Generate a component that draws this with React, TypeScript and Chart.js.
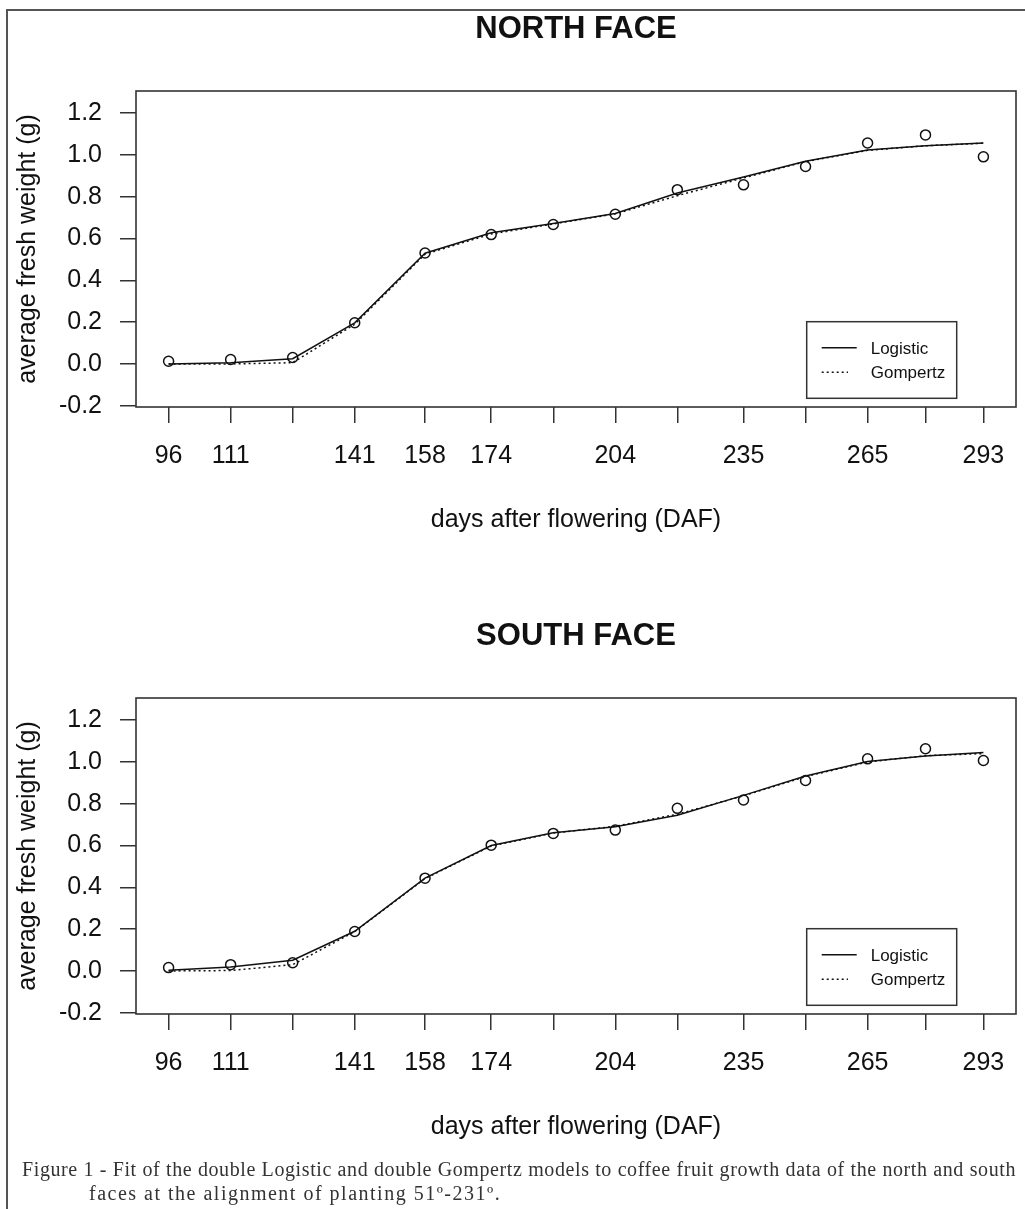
import React, { useEffect, useRef } from 'react';
import { Chart, registerables } from 'chart.js';

Chart.register(...registerables);

// ---- data ----
const days = [96, 111, 126, 141, 158, 174, 189, 204, 219, 235, 250, 265, 279, 293];
const xLabelDays = [96, 111, 141, 158, 174, 204, 235, 265, 293];
const yTicks = [-0.2, 0, 0.2, 0.4, 0.6, 0.8, 1.0, 1.2];

const northObserved = [0.013, 0.021, 0.031, 0.197, 0.531, 0.619, 0.667, 0.716, 0.834, 0.857, 0.945, 1.057, 1.096, 0.991];
const northLogistic = [0.0, 0.006, 0.025, 0.197, 0.53, 0.628, 0.672, 0.72, 0.818, 0.895, 0.97, 1.024, 1.044, 1.057];
const northGompertz = [0.0, 0.0, 0.006, 0.19, 0.525, 0.622, 0.67, 0.718, 0.805, 0.89, 0.968, 1.022, 1.044, 1.056];

const southObserved = [0.016, 0.03, 0.039, 0.189, 0.444, 0.602, 0.658, 0.674, 0.778, 0.818, 0.911, 1.015, 1.063, 1.007];
const southLogistic = [0.003, 0.019, 0.051, 0.19, 0.444, 0.6, 0.661, 0.69, 0.745, 0.84, 0.933, 1.002, 1.028, 1.045];
const southGompertz = [0.0, 0.002, 0.03, 0.188, 0.442, 0.598, 0.66, 0.692, 0.75, 0.838, 0.93, 1.0, 1.03, 1.04];

const FONT = 'Liberation Sans, Arial, sans-serif';
const INK = '#111';

const toXY = (vals: number[]) => days.map((d, i) => ({ x: d, y: vals[i] }));

const boxPlugin = {
  id: 'plotBox',
  afterDatasetsDraw(chart: any) {
    const { ctx, chartArea: a } = chart;
    ctx.save();
    ctx.strokeStyle = '#333';
    ctx.lineWidth = 1.6;
    ctx.strokeRect(a.left, a.top, a.right - a.left, a.bottom - a.top);
    ctx.restore();
  },
};

const legendPlugin = {
  id: 'rLegend',
  afterDraw(chart: any) {
    const { ctx, chartArea: a } = chart;
    const ds = chart.data.datasets;
    const left = a.right - 209.3;
    const right = a.right - 59.3;
    const top = a.bottom - 85.3;
    const bottom = a.bottom - 8.7;
    ctx.save();
    ctx.fillStyle = '#fff';
    ctx.fillRect(left, top, right - left, bottom - top);
    ctx.strokeStyle = '#333';
    ctx.lineWidth = 1.5;
    ctx.strokeRect(left, top, right - left, bottom - top);
    const rows = [
      { ds: ds[1], y: a.bottom - 59.3, x2: a.right - 159.3, ty: a.bottom - 57.6 },
      { ds: ds[2], y: a.bottom - 34.7, x2: a.right - 168, ty: a.bottom - 33.2 },
    ];
    rows.forEach((r) => {
      ctx.beginPath();
      ctx.strokeStyle = INK;
      ctx.lineWidth = 1.5;
      ctx.setLineDash(r.ds.borderDash || []);
      ctx.moveTo(a.right - 194.3, r.y);
      ctx.lineTo(r.x2, r.y);
      ctx.stroke();
      ctx.setLineDash([]);
      ctx.fillStyle = INK;
      ctx.font = `17px ${FONT}`;
      ctx.textAlign = 'left';
      ctx.textBaseline = 'middle';
      ctx.fillText(r.ds.label, a.right - 145.3, r.ty);
    });
    ctx.restore();
  },
};

function Panel({ title, observed, logistic, gompertz, top }: any) {
  const ref = useRef<HTMLCanvasElement>(null);
  useEffect(() => {
    const chart = new Chart(ref.current as HTMLCanvasElement, {
      type: 'scatter',
      data: {
        datasets: [
          {
            label: 'Observed',
            data: toXY(observed),
            showLine: false,
            pointRadius: 5,
            pointBorderWidth: 1.5,
            pointBackgroundColor: 'rgba(0,0,0,0)',
            pointBorderColor: INK,
            borderColor: INK,
          },
          {
            label: 'Logistic',
            data: toXY(logistic),
            showLine: true,
            pointRadius: 0,
            borderColor: INK,
            borderWidth: 1.5,
            tension: 0,
          },
          {
            label: 'Gompertz',
            data: toXY(gompertz),
            showLine: true,
            pointRadius: 0,
            borderColor: INK,
            borderWidth: 1.5,
            borderDash: [2, 3],
            tension: 0,
          },
        ],
      } as any,
      options: {
        animation: false,
        responsive: false,
        events: [],
        layout: { padding: { left: 0, right: 9, top: 0, bottom: 0 } },
        plugins: {
          legend: { display: false },
          tooltip: { enabled: false },
          title: {
            display: true,
            text: title,
            fullSize: false,
            color: INK,
            font: { family: FONT, size: 31, weight: 'bold', lineHeight: 1.2 },
            padding: { top: 10.4, bottom: 43.4 },
          },
        },
        scales: {
          x: {
            type: 'linear',
            min: 88.12,
            max: 300.88,
            afterBuildTicks: (s: any) => {
              s.ticks = days.map((v) => ({ value: v }));
            },
            afterFit: (s: any) => {
              s.height = 153;
            },
            ticks: {
              autoSkip: false,
              maxRotation: 0,
              minRotation: 0,
              padding: 18,
              color: INK,
              font: { family: FONT, size: 25 },
              callback: (v: any) => (xLabelDays.includes(Number(v)) ? String(v) : ''),
            },
            grid: { drawOnChartArea: false, drawTicks: true, tickLength: 16, color: '#333', lineWidth: 1.5 },
            border: { display: false },
            title: {
              display: true,
              text: 'days after flowering (DAF)',
              color: INK,
              font: { family: FONT, size: 25, lineHeight: 1.2 },
              padding: { top: 0, bottom: 24.75 },
            },
          },
          y: {
            type: 'linear',
            min: -0.206,
            max: 1.306,
            afterBuildTicks: (s: any) => {
              s.ticks = yTicks.map((v) => ({ value: v }));
            },
            afterFit: (s: any) => {
              s.width = 136;
            },
            ticks: {
              padding: 18,
              color: INK,
              font: { family: FONT, size: 25 },
              callback: (v: any) => Number(v).toFixed(1),
            },
            grid: { drawOnChartArea: false, drawTicks: true, tickLength: 16, color: '#333', lineWidth: 1.5 },
            border: { display: false },
            title: {
              display: true,
              text: 'average fresh weight (g)',
              color: INK,
              font: { family: FONT, size: 25, lineHeight: 1.2 },
              padding: { top: 12.75, bottom: 0 },
            },
          },
        },
      } as any,
      plugins: [boxPlugin, legendPlugin],
    });
    return () => chart.destroy();
  }, []);
  return (
    <canvas
      ref={ref}
      width={1025}
      height={560}
      style={{ position: 'absolute', left: 0, top, width: 1025, height: 560 }}
    />
  );
}

export default function App() {
  return (
    <div
      style={{
        position: 'absolute',
        left: 0,
        top: 0,
        width: 1025,
        height: 1209,
        overflow: 'hidden',
        background: '#fff',
      }}
    >
      <div
        style={{
          position: 'absolute',
          left: 6,
          top: 9,
          width: 1200,
          height: 1400,
          borderTop: '2px solid #555',
          borderLeft: '2px solid #555',
        }}
      />
      <Panel title="NORTH FACE" observed={northObserved} logistic={northLogistic} gompertz={northGompertz} top={0} />
      <Panel title="SOUTH FACE" observed={southObserved} logistic={southLogistic} gompertz={southGompertz} top={607} />
      <div
        style={{
          position: 'absolute',
          left: 22,
          top: 1157,
          fontFamily: 'Liberation Serif, Times New Roman, serif',
          fontSize: 20,
          lineHeight: '24px',
          color: '#333',
        }}
      >
        <div
          style={{
            width: 994,
            letterSpacing: 0.6,
            textAlign: 'justify',
            textAlignLast: 'justify' as any,
          }}
        >
          Figure 1 - Fit of the double Logistic and double Gompertz models to coffee fruit growth data of the north and south
        </div>
        <div style={{ paddingLeft: 67, whiteSpace: 'nowrap', letterSpacing: 1.5 }}>
          faces at the alignment of planting 51º-231º.
        </div>
      </div>
    </div>
  );
}
